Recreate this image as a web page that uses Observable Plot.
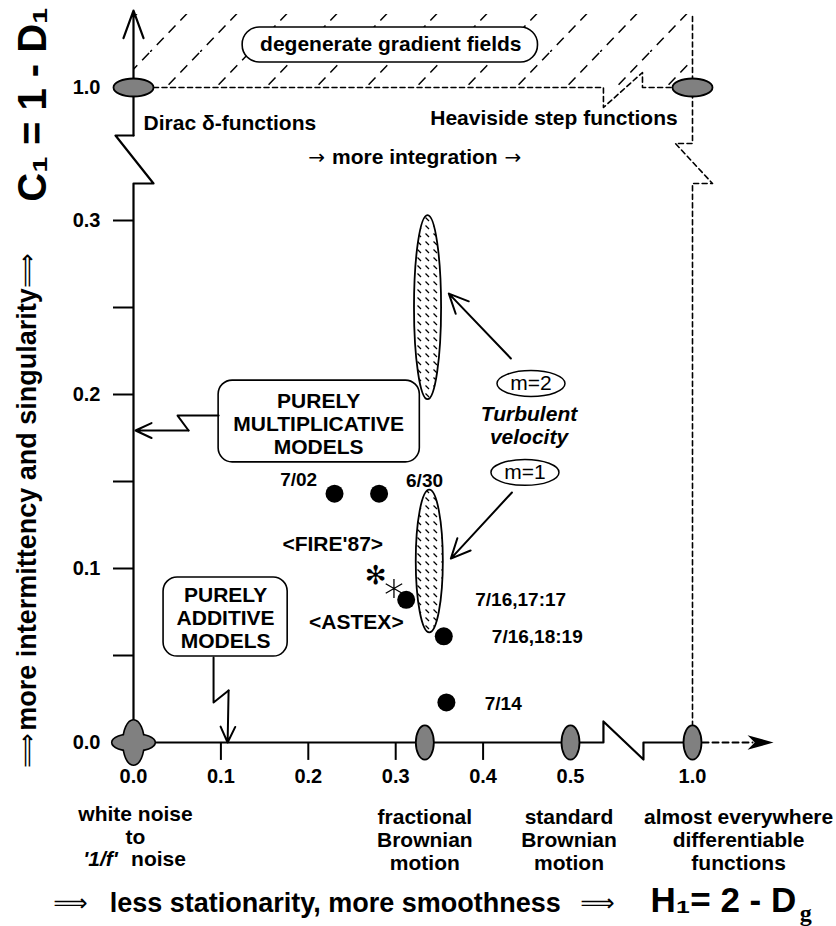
<!DOCTYPE html>
<html><head><meta charset="utf-8">
<script src="https://cdn.jsdelivr.net/npm/d3@7"></script>
<script src="https://cdn.jsdelivr.net/npm/@observablehq/plot@0.6"></script>
<style>body{margin:0;background:#fff}</style>
</head><body><div id="chart"></div>
<script>
// ---------- data (H1, C1) ----------
const obsLabel = ["7/02", "6/30", "ASTEX", "7/16,18:19", "7/14"];
const obsH = [0.230, 0.281, 0.312, 0.355, 0.358];
const obsC = [0.143, 0.143, 0.082, 0.061, 0.023];

// FIRE'87 asterisks (filled, open)
const fireFilledH = [0.277], fireFilledC = [0.096];
const fireOpenH = [0.298], fireOpenC = [0.0885];

const turbName = ["m=2", "m=1"];
const turbH = [0.337, 0.339];
const turbHalfWidth = [0.0155, 0.0155];
const turbCLow = [0.197, 0.063];
const turbCHigh = [0.326, 0.145];

// reference (limit) processes
const limitNameH = ["Dirac", "Heaviside"];
const limitHH = [0, 1.0];
const limitHC = [1.0, 1.0];
const limitNameV = ["fBm", "Brownian", "differentiable"];
const limitVH = [1/3, 0.5, 1.0];
const limitVC = [0, 0, 0];
const originH = [0], originC = [0];

// ticks
const xTickMarks = [0.1, 0.2, 0.3, 0.4];
const xTickValues = [0, 0.1, 0.2, 0.3, 0.4, 0.5, 1.0];
const xTickText = ["0.0", "0.1", "0.2", "0.3", "0.4", "0.5", "1.0"];
const yTickMarks = [0.05, 0.1, 0.15, 0.2, 0.25, 0.3];
const yTickValues = [0, 0.1, 0.2, 0.3, 1.0];
const yTickText = ["0.0", "0.1", "0.2", "0.3", "1.0"];

// labels of the measurements
const pointLabels = ["7/02", "6/30", "7/16,17:17", "7/16,18:19", "7/14"];
const pointLabelH = [0.189, 0.333, 0.443, 0.462, 0.423];
const pointLabelC = [0.1511, 0.1506, 0.0822, 0.0609, 0.0224];
const campaignLabels = ["<FIRE'87>", "<ASTEX>"];
const campaignH = [0.228, 0.255];
const campaignC = [0.1138, 0.069];

// schematic polylines (H1, C1)
const yAxisPath = [[0, 0], [0, 0.4947], [0.0229, 0.4947], [-0.0206, 0.7474], [0, 0.7474]];
const yAxisArrow = [[0, 0.7474, 0, 1.405]];
const xAxisPath = [[0, 0], [0.635, 0], [0.635, 0.0121], [0.799, -0.0098], [0.799, 0], [1.0, 0]];
const xAxisDashed = [[1.0, 0], [1.246, 0]];
const xAxisHead = [[1.279, 0]];
const rightEdge = [[1.0, 1.3737], [1.0, 0.7053], [0.930, 0.7053], [1.082, 0.4947], [1.0, 0.4947], [1.0, 0]];
const topEdge = [[0.0229, 1.0], [0.635, 1.0], [0.635, 0.8947], [0.795, 1.0789], [0.795, 1.0], [1.0, 1.0]];
const hatchZone = [[0, 1.0, 1.0, 1.384]];
const multPath = [[0.0974, 0.1879], [0.0504, 0.1879], [0.063, 0.1793]];
const multArrow = [[0.063, 0.1793, 0.0023, 0.1793]];
const addPath = [[0.0916, 0.0489], [0.0916, 0.023], [0.1088, 0.0299]];
const addArrow = [[0.1088, 0.0299, 0.1077, 0.0]];
const turbArrows = [[0.4318, 0.2207, 0.3608, 0.258], [0.433, 0.1437, 0.3631, 0.1057]];

// boxes [x1, y1, x2, y2]
const boxes = [[0.0974, 0.161, 0.3276, 0.208], [0.0344, 0.0494, 0.1764, 0.0948]];
const boxText = ["PURELY\nMULTIPLICATIVE\nMODELS", "PURELY\nADDITIVE\nMODELS"];
const boxTextH = [0.2119, 0.1054];
const boxTextC = [0.1833, 0.0718];
const degBox = [[0.1249, 1.1316, 0.4628, 1.3158]];
const degText = ["degenerate gradient fields"], degH = [0.2944], degC = [1.2263];

const ovalH = [0.4548, 0.4479], ovalC = [0.2063, 0.1552];

const topLabels = ["Heaviside step functions", "more integration"];
const topLabelH = [0.4811, 0.3219];
const topLabelC = [0.8368, 0.6316];
const integArrowH = [0.2096, 0.4341];
const diracText = ["Dirac δ-functions"], diracH = [0.0115], diracC = [0.8105];

const bottomText = ["white noise\nto", "fractional\nBrownian\nmotion", "standard\nBrownian\nmotion", "almost everywhere\ndifferentiable\nfunctions"];
const bottomH = [0.0023, 0.3333, 0.4983, 1.189];
const bottomC = [-0.0477, -0.0557, -0.0557, -0.0557];

// ---------- helpers ----------
const F = "'Liberation Sans', Arial, Helvetica, sans-serif";
const SYM = "'DejaVu Sans', sans-serif";
function ellipseSymbol(k) {
  return {draw(ctx, size) {
    const rx = Math.sqrt(size / Math.PI), ry = rx * k, c = 0.5523;
    ctx.moveTo(rx, 0);
    ctx.bezierCurveTo(rx, c * ry, c * rx, ry, 0, ry);
    ctx.bezierCurveTo(-c * rx, ry, -rx, c * ry, -rx, 0);
    ctx.bezierCurveTo(-rx, -c * ry, -c * rx, -ry, 0, -ry);
    ctx.bezierCurveTo(c * rx, -ry, rx, -c * ry, rx, 0);
    ctx.closePath();
  }};
}
const arrowHead = {draw(ctx, size) {
  const r = Math.sqrt(size / Math.PI);
  ctx.moveTo(r, 0); ctx.lineTo(-r, -0.55 * r); ctx.lineTo(-0.45 * r, 0); ctx.lineTo(-r, 0.55 * r); ctx.closePath();
}};
const zip = (obj) => { const keys = Object.keys(obj); return obj[keys[0]].map((_, i) => Object.fromEntries(keys.map(k => [k, obj[k][i]]))); };
const pts = (arr) => arr.map(([h, c]) => ({h, c}));
const segs = (arr) => arr.map(([x1, y1, x2, y2]) => ({x1, y1, x2, y2}));

const obs = zip({label: obsLabel, h: obsH, c: obsC});
const turb = zip({name: turbName, h: turbH, w: turbHalfWidth, lo: turbCLow, hi: turbCHigh});

const chart = Plot.plot({
  width: 836, height: 926, margin: 0,
  x: {type: "linear", domain: [0, 0.5, 1.0], range: [133, 570, 692], axis: null},
  y: {type: "linear", domain: [0, 0.3, 1.0], range: [742, 220, 87], axis: null},
  style: {fontFamily: F, background: "#fff", color: "#000"},
  marks: [
    // hatched zone of degenerate fields
    Plot.rect(segs(hatchZone), {x1: "x1", y1: "y1", x2: "x2", y2: "y2", fill: "url(#hatch)"}),
    Plot.line(pts(topEdge), {x: "h", y: "c", stroke: "#000", strokeWidth: 1.6, strokeDasharray: "5,3.5"}),
    Plot.line(pts(rightEdge), {x: "h", y: "c", stroke: "#000", strokeWidth: 1.6, strokeDasharray: "5,3.5"}),
    Plot.rect(segs(degBox), {x1: "x1", x2: "x2", y1: "y1", y2: "y2", fill: "#fff", stroke: "#000", strokeWidth: 1.6, rx: 17, ry: 17}),
    Plot.text(degText, {x: degH, y: degC, text: d => d, fontSize: 21, fontWeight: "bold"}),
    // axes
    Plot.line(pts(yAxisPath), {x: "h", y: "c", stroke: "#000", strokeWidth: 2.2}),
    Plot.arrow(segs(yAxisArrow), {x1: "x1", y1: "y1", x2: "x2", y2: "y2", stroke: "#000", strokeWidth: 2.2, headLength: 20, headAngle: 40}),
    Plot.line(pts(xAxisPath), {x: "h", y: "c", stroke: "#000", strokeWidth: 2.2}),
    Plot.line(pts(xAxisDashed), {x: "h", y: "c", stroke: "#000", strokeWidth: 2, strokeDasharray: "6,4"}),
    Plot.dot(pts(xAxisHead), {x: "h", y: "c", r: 13, symbol: arrowHead, fill: "#000", stroke: "none"}),
    Plot.ruleX(xTickMarks, {x: d => d, y1: 0, y2: -0.0103, stroke: "#000", strokeWidth: 2}),
    Plot.ruleY(yTickMarks, {y: d => d, x1: -0.0229, x2: 0, stroke: "#000", strokeWidth: 2}),
    Plot.text(xTickText, {x: xTickValues, y: -0.0195, text: d => d, fontSize: 20, fontWeight: "bold"}),
    Plot.text(yTickText, {x: -0.0378, y: yTickValues, text: d => d, fontSize: 20, fontWeight: "bold", textAnchor: "end"}),
    // limit processes
    Plot.dot(originH, {x: originH, y: originC, r: 21, symbol: ellipseSymbol(0.38), fill: "none", stroke: "#000", strokeWidth: 3.2}),
    Plot.dot(originH, {x: originH, y: originC, r: 10, symbol: ellipseSymbol(2.2), fill: "none", stroke: "#000", strokeWidth: 3.2}),
    Plot.dot(originH, {x: originH, y: originC, r: 21, symbol: ellipseSymbol(0.38), fill: "url(#stipple)", stroke: "none"}),
    Plot.dot(originH, {x: originH, y: originC, r: 10, symbol: ellipseSymbol(2.2), fill: "url(#stipple)", stroke: "none"}),
    Plot.dot(limitNameH, {x: limitHH, y: limitHC, r: 20, symbol: ellipseSymbol(0.45), fill: "url(#stipple)", stroke: "#000", strokeWidth: 1.8}),
    Plot.dot(limitNameV, {x: limitVH, y: limitVC, r: 9, symbol: ellipseSymbol(1.9), fill: "url(#stipple)", stroke: "#000", strokeWidth: 1.8}),
    // turbulent velocity ranges
    Plot.rect(turb, {x1: d => d.h - d.w, x2: d => d.h + d.w, y1: "lo", y2: "hi", fill: "url(#turb)", stroke: "#000", strokeWidth: 1.8, rx: 300, ry: 300}),
    Plot.arrow(segs(turbArrows), {x1: "x1", y1: "y1", x2: "x2", y2: "y2", stroke: "#000", strokeWidth: 2, headLength: 16, headAngle: 50}),
    Plot.dot(turbName, {x: ovalH, y: ovalC, r: 34, symbol: ellipseSymbol(0.38), fill: "#fff", stroke: "#000", strokeWidth: 1.5}),
    Plot.text(turbName, {x: ovalH, y: ovalC, text: d => d, fontSize: 21}),
    Plot.text(["Turbulent\nvelocity"], {x: 0.4525, y: 0.1825, text: d => d, fontSize: 21, fontWeight: "bold", fontStyle: "italic", lineHeight: 1.1}),
    // observations
    Plot.dot(obs, {x: "h", y: "c", r: 9, fill: "#000", stroke: "none"}),
    Plot.text(["✻"], {x: fireFilledH, y: fireFilledC, text: d => d, fontSize: 26, fill: "#000", fontFamily: SYM}),
    Plot.dot(fireOpenH, {x: fireOpenH, y: fireOpenC, r: 9, symbol: "asterisk", stroke: "#000", strokeWidth: 1.3}),
    Plot.text(pointLabels, {x: pointLabelH, y: pointLabelC, text: d => d, fontSize: 19, fontWeight: "bold"}),
    Plot.text(campaignLabels, {x: campaignH, y: campaignC, text: d => d, fontSize: 21, fontWeight: "bold"}),
    // model boxes
    Plot.rect(segs(boxes), {x1: "x1", x2: "x2", y1: "y1", y2: "y2", fill: "#fff", stroke: "#000", strokeWidth: 1.6, rx: 14, ry: 14}),
    Plot.text(boxText, {x: boxTextH, y: boxTextC, text: d => d, fontSize: 21, fontWeight: "bold", lineHeight: 1.1}),
    Plot.line(pts(multPath), {x: "h", y: "c", stroke: "#000", strokeWidth: 2}),
    Plot.arrow(segs(multArrow), {x1: "x1", y1: "y1", x2: "x2", y2: "y2", stroke: "#000", strokeWidth: 2, headLength: 14, headAngle: 50}),
    Plot.line(pts(addPath), {x: "h", y: "c", stroke: "#000", strokeWidth: 2}),
    Plot.arrow(segs(addArrow), {x1: "x1", y1: "y1", x2: "x2", y2: "y2", stroke: "#000", strokeWidth: 2, headLength: 14, headAngle: 50}),
    // top labels
    Plot.text(diracText, {x: diracH, y: diracC, text: d => d, fontSize: 21, fontWeight: "bold", textAnchor: "start"}),
    Plot.text(topLabels, {x: topLabelH, y: topLabelC, text: d => d, fontSize: 21, fontWeight: "bold"}),
    Plot.text(["→", "→"], {x: integArrowH, y: 0.6316, text: d => d, fontSize: 20, fontFamily: SYM}),
    // bottom descriptions
    Plot.text(bottomText, {x: bottomH, y: bottomC, text: d => d, fontSize: 21, fontWeight: "bold", lineHeight: 1.1}),
    Plot.text(["'1/f'"], {x: -0.0378, y: -0.0672, text: d => d, fontSize: 21, fontWeight: "bold", fontStyle: "italic"}),
    Plot.text(["noise"], {x: 0.0286, y: -0.0672, text: d => d, fontSize: 21, fontWeight: "bold"}),
    // axis titles
    Plot.text(["less stationarity, more smoothness"], {x: 0.2308, y: -0.0925, text: d => d, fontSize: 27, fontWeight: "bold"}),
    Plot.text(["⟹", "⟹"], {x: [-0.0722, 0.6107], y: -0.0925, text: d => d, fontSize: 24, fontFamily: SYM}),
    Plot.text(["H₁= 2 - D"], {x: 0.8279, y: -0.0908, text: d => d, fontSize: 35, fontWeight: "bold", textAnchor: "start"}),
    Plot.text(["g"], {x: 1.44, y: -0.0983, text: d => d, fontSize: 24, fontWeight: "bold", textAnchor: "start", fontFamily: "'Liberation Serif', serif"}),
    Plot.text(["C₁ = 1 - D₁"], {x: -0.1145, y: 0.9105, text: d => d, fontSize: 40, fontWeight: "bold", rotate: -90}),
    Plot.text(["more intermittency and singularity"], {x: -0.1214, y: 0.1339, text: d => d, fontSize: 27, fontWeight: "bold", rotate: -90}),
    Plot.text(["⟹", "⟹"], {x: -0.1214, y: [-0.0046, 0.2713], text: d => d, fontSize: 24, rotate: -90, fontFamily: SYM})
  ]
});

// patterns used as fills
const defs = d3.select(chart).insert("defs", ":first-child");
const st = defs.append("pattern").attr("id", "stipple").attr("width", 2).attr("height", 2).attr("patternUnits", "userSpaceOnUse");
st.append("rect").attr("width", 2).attr("height", 2).attr("fill", "#fff");
st.append("rect").attr("width", 1).attr("height", 1).attr("fill", "#000");
st.append("rect").attr("x", 1).attr("y", 1).attr("width", 1).attr("height", 1).attr("fill", "#000");
const tu = defs.append("pattern").attr("id", "turb").attr("width", 8).attr("height", 8).attr("patternUnits", "userSpaceOnUse");
tu.append("rect").attr("width", 8).attr("height", 8).attr("fill", "#fff");
tu.append("path").attr("d", "M1.5,1.5L5,5").attr("stroke", "#000").attr("stroke-width", 1.2);
const ha = defs.append("pattern").attr("id", "hatch").attr("width", 50).attr("height", 52).attr("patternUnits", "userSpaceOnUse");
ha.append("path").attr("d", "M-5,57.2L55,-5.2").attr("stroke", "#000").attr("stroke-width", 1.5).attr("stroke-dasharray", "10,7").attr("fill", "none");

document.getElementById("chart").appendChild(chart);
</script></body></html>
